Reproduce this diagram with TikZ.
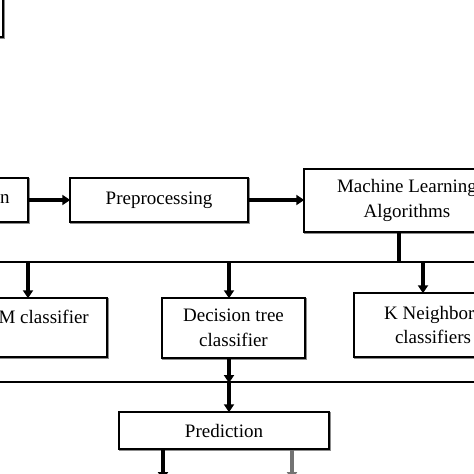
\documentclass[tikz,border=0pt]{standalone}
\usepackage{fontspec}
\setmainfont{Liberation Serif}
\usetikzlibrary{arrows.meta}
\begin{document}
\begin{tikzpicture}[x=1pt,y=-1pt,
  box/.style={rectangle, draw=black, line width=1.4pt, fill=white, inner sep=0pt,
    preaction={draw=black!45, line width=2pt, transform canvas={shift={(1.3pt,-1.3pt)}}},
    font=\fontsize{19}{24.5}\selectfont, align=center},
  txt/.style={inner sep=0pt, font=\fontsize{19}{24.5}\selectfont, align=center},
  conn/.style={line width=2pt, draw=black},
  arr/.style={line width=3.6pt, draw=black, -{Triangle[length=8pt,width=10pt]}, shorten >=-1pt}]
\useasboundingbox (0,0) rectangle (474,474);
\clip (0,0) rectangle (474,474);
% partial box at top-left
\node[box, minimum width=60pt, minimum height=50pt] (corner) at (-27,12) {};
% first row
\node[box, minimum width=128pt, minimum height=44pt] (src) at (-36,200) {};
\node[txt] (srct) at (5,199) {n};
\node[box, minimum width=178pt, minimum height=44pt] (pre) at (159,200) {Preprocessing};
\node[box, minimum width=206pt, minimum height=63pt] (ml) at (407,200.5) {Machine Learning\\Algorithms};
\draw[arr] (src.east) -- (pre.west);
\draw[arr] (pre.east) -- (ml.west |- pre.east);
% distribution line
\coordinate (mlb) at (399,232);
\coordinate (busL) at (0,262);
\coordinate (busR) at (474,262);
\coordinate (j1) at (399,262);
\draw[conn] (busL) -- (busR);
\draw[line width=3.6pt] (mlb) -- (j1);
% classifiers
\node[box, minimum width=167pt, minimum height=59pt] (svm) at (23.5,327.5) {};
\node[txt, anchor=east] (svmt) at (89,317) {M classifier};
\node[box, minimum width=143pt, minimum height=60pt] (dt) at (233.5,328) {Decision tree\\classifier};
\node[box, minimum width=158pt, minimum height=64pt] (kn) at (433,325) {K Neighbors\\classifiers};
\coordinate (a1) at (28,262);
\coordinate (a2) at (229,262);
\coordinate (a3) at (423,262);
\draw[arr] (a1) -- (a1 |- svm.north);
\draw[arr] (a2) -- (a2 |- dt.north);
\draw[arr] (a3) -- (a3 |- kn.north);
% collect line
\coordinate (cL) at (0,382);
\coordinate (cR) at (474,382);
\coordinate (c2) at (229,382);
\draw[conn] (cL) -- (cR);
\draw[arr] (dt.south -| c2) -- (c2);
% prediction
\node[box, minimum width=210pt, minimum height=37pt] (pred) at (224,430.5) {Prediction};
\draw[arr] (c2) -- (c2 |- pred.north);
\coordinate (o1) at (163,479);
\coordinate (o2) at (292,479);
\draw[arr] (o1 |- pred.south) -- (o1);
\draw[arr, draw=black!55, fill=black] (o2 |- pred.south) -- (o2);
\end{tikzpicture}
\end{document}
